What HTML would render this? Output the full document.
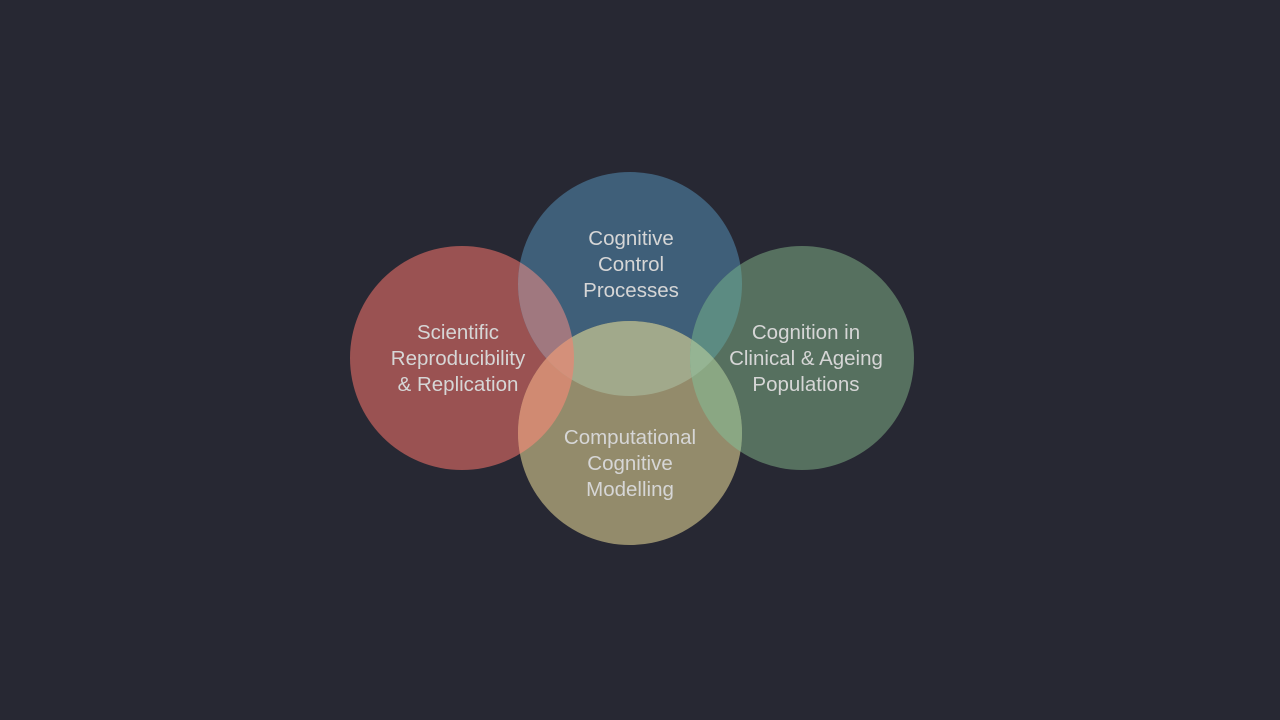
<!DOCTYPE html>
<html><head><style>html,body{margin:0;background:#272833;}svg{display:block}text{font-family:"Liberation Sans",sans-serif;font-size:20.5px;fill:#d6d6d6;text-anchor:middle}</style></head>
<body><svg width="1280" height="720" viewBox="0 0 1280 720">
<defs>
<clipPath id="cR"><circle cx="462" cy="358" r="112"/></clipPath>
<clipPath id="cB"><circle cx="630" cy="284" r="112"/></clipPath>
<clipPath id="cG"><circle cx="802" cy="358" r="112"/></clipPath>
<clipPath id="cY"><circle cx="630" cy="433" r="112"/></clipPath>
</defs>
<rect width="1280" height="720" fill="#272833"/>
<circle cx="462" cy="358" r="112" fill="#9a5252"/>
<circle cx="630" cy="284" r="112" fill="#3f5f79"/>
<circle cx="802" cy="358" r="112" fill="#56705f"/>
<circle cx="630" cy="433" r="112" fill="#938b6b"/>
<g clip-path="url(#cR)"><circle cx="630" cy="284" r="112" fill="#a0787f"/><circle cx="630" cy="433" r="112" fill="#d08a72"/></g>
<g clip-path="url(#cB)"><circle cx="630" cy="433" r="112" fill="#a1a98b"/><circle cx="802" cy="358" r="112" fill="#5c8b82"/></g>
<g clip-path="url(#cR)"><g clip-path="url(#cB)"><circle cx="630" cy="433" r="112" fill="#d4907a"/></g></g>
<g clip-path="url(#cG)"><circle cx="630" cy="433" r="112" fill="#8aa783"/></g>
<g clip-path="url(#cG)"><g clip-path="url(#cB)"><circle cx="630" cy="433" r="112" fill="#95b493"/></g></g>
<text x="631" y="245">Cognitive</text><text x="631" y="271">Control</text><text x="631" y="297">Processes</text>
<text x="458" y="339">Scientific</text><text x="458" y="365">Reproducibility</text><text x="458" y="391">&amp; Replication</text>
<text x="806" y="339">Cognition in</text><text x="806" y="365">Clinical &amp; Ageing</text><text x="806" y="391">Populations</text>
<text x="630" y="444">Computational</text><text x="630" y="470">Cognitive</text><text x="630" y="496">Modelling</text>
</svg></body></html>
